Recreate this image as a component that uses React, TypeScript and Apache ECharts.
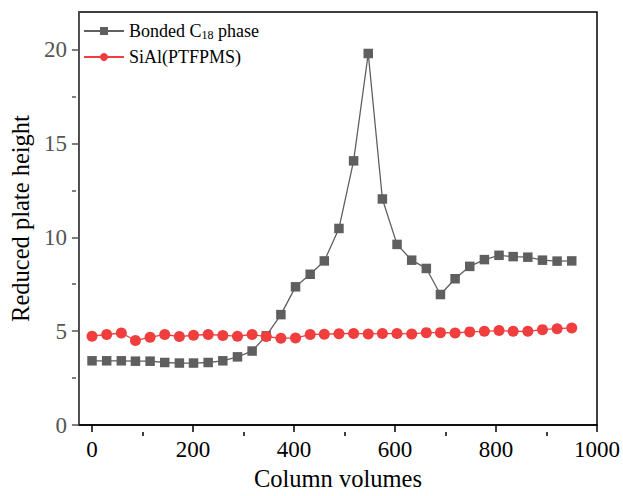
import React, { useEffect, useRef } from "react";
import * as echarts from "echarts";

const columnVolumes = [0, 29, 58, 86, 115, 144, 173, 201, 230, 259, 288, 317, 345, 374, 403, 432, 460, 489, 518, 547, 575, 604, 633, 662, 690, 719, 748, 777, 806, 834, 863, 892, 921, 950];
const bondedC18 = [3.42, 3.42, 3.42, 3.40, 3.40, 3.33, 3.30, 3.30, 3.33, 3.42, 3.63, 3.94, 4.75, 5.88, 7.36, 8.03, 8.74, 10.47, 14.07, 19.79, 12.04, 9.62, 8.78, 8.34, 6.95, 7.79, 8.45, 8.81, 9.04, 8.97, 8.94, 8.78, 8.73, 8.74];
const siAl = [4.73, 4.82, 4.90, 4.50, 4.68, 4.82, 4.71, 4.78, 4.82, 4.77, 4.73, 4.82, 4.71, 4.62, 4.64, 4.82, 4.84, 4.86, 4.88, 4.85, 4.87, 4.87, 4.85, 4.92, 4.92, 4.90, 4.96, 4.99, 5.03, 4.99, 4.99, 5.08, 5.13, 5.17];
const xTicks = [0, 200, 400, 600, 800, 1000];
const xMinorTicks = [100, 300, 500, 700, 900];
const yTicks = [0, 5, 10, 15, 20];
const yMinorTicks = [2.5, 7.5, 12.5, 17.5];
const seriesNames = ["Bonded C18 phase", "SiAl(PTFPMS)"];

const FONT = "Liberation Serif";
const W = 623;
const H = 496;
const GRID = { left: 77, right: 25, top: 12, bottom: 64 };
const plotW = W - GRID.left - GRID.right;
const plotH = H - GRID.top - GRID.bottom;

export default function App() {
  const ref = useRef<HTMLDivElement>(null);
  useEffect(() => {
    if (!ref.current) return;
    const chart = echarts.init(ref.current, null, { renderer: "svg" });
    const toPairs = (ys: number[]) => ys.map((y, i) => [columnVolumes[i], y]);
    chart.setOption({
      animation: false,
      backgroundColor: "#fff",
      textStyle: { fontFamily: FONT },
      grid: {
        ...GRID,
        show: true,
        borderColor: "#000",
        borderWidth: 1.5,
        backgroundColor: "transparent",
      },
      legend: {
        left: 78,
        top: 17,
        orient: "vertical",
        itemWidth: 40,
        itemHeight: 10,
        itemGap: 7,
        data: seriesNames,
        formatter: (name: string) =>
          name === seriesNames[0] ? "Bonded C{sub|18} phase" : name,
        textStyle: {
          fontFamily: FONT,
          fontSize: 18,
          color: "#000",
          rich: {
            sub: { fontFamily: FONT, fontSize: 12, color: "#000", padding: [8, 0, 0, 0] },
          },
        },
      },
      xAxis: [
        {
          type: "value",
          min: -26,
          max: 1000,
          position: "bottom",
          name: "Column volumes",
          nameLocation: "middle",
          nameGap: 41,
          nameTextStyle: { fontFamily: FONT, fontSize: 24.5, color: "#000" },
          axisLine: { show: true, onZero: false, lineStyle: { color: "#000", width: 1.5 } },
          axisTick: { show: true, inside: false, length: 7, customValues: xTicks, lineStyle: { color: "#000", width: 1.5 } },
          axisLabel: { customValues: xTicks, formatter: (v: number) => String(v), fontFamily: FONT, fontSize: 23, color: "#000", margin: 13 },
          splitLine: { show: false },
        },
        {
          type: "value",
          min: -26,
          max: 1000,
          position: "top",
          offset: -plotH,
          axisLine: { show: false, onZero: false },
          axisTick: { show: true, inside: true, length: 4, customValues: xMinorTicks, lineStyle: { color: "#000", width: 1.5 } },
          axisLabel: { show: false },
          splitLine: { show: false },
        },
      ],
      yAxis: [
        {
          type: "value",
          min: 0,
          max: 22,
          position: "left",
          name: "Reduced plate height",
          nameLocation: "middle",
          nameGap: 44,
          nameTextStyle: { fontFamily: FONT, fontSize: 24.5, color: "#000" },
          axisLine: { show: true, onZero: false, lineStyle: { color: "#555", width: 1.5 } },
          axisTick: { show: true, inside: false, length: 7, customValues: yTicks, lineStyle: { color: "#555", width: 1.5 } },
          axisLabel: { customValues: yTicks, fontFamily: FONT, fontSize: 23, color: "#555", margin: 12 },
          splitLine: { show: false },
        },
        {
          type: "value",
          min: 0,
          max: 22,
          position: "right",
          offset: -plotW,
          axisLine: { show: false, onZero: false },
          axisTick: { show: true, inside: true, length: 4, customValues: yMinorTicks, lineStyle: { color: "#555", width: 1.5 } },
          axisLabel: { show: false },
          splitLine: { show: false },
        },
      ],
      series: [
        {
          name: seriesNames[0],
          type: "line",
          data: toPairs(bondedC18),
          symbol: "rect",
          symbolSize: 9.5,
          itemStyle: { color: "#5f5f5f" },
          lineStyle: { color: "#5f5f5f", width: 1.3 },
        },
        {
          name: seriesNames[1],
          type: "line",
          data: toPairs(siAl),
          symbol: "circle",
          symbolSize: 11,
          itemStyle: { color: "#f03e3e" },
          lineStyle: { color: "#f03e3e", width: 1.3 },
        },
      ],
    });
    return () => chart.dispose();
  }, []);
  return (
    <div
      ref={ref}
      style={{ position: "fixed", left: 0, top: 0, width: W, height: H }}
    />
  );
}
